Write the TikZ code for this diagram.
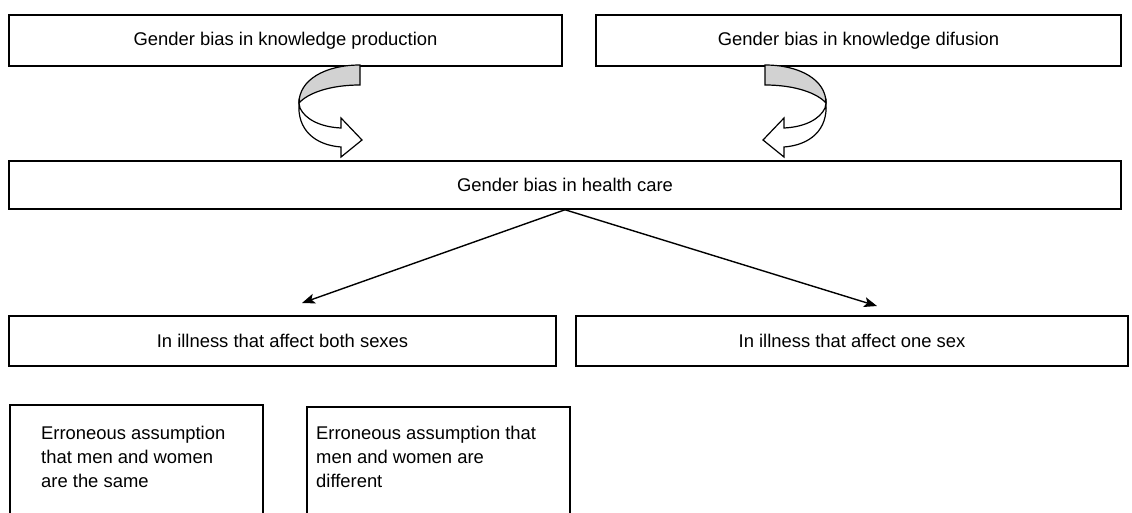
\documentclass[tikz,border=0pt]{standalone}
\usepackage{fontspec}
\setmainfont{Liberation Sans}
\usetikzlibrary{arrows.meta}
\begin{document}
\begin{tikzpicture}[x=1pt,y=-1pt,
  box/.style={draw, line width=1.5pt, inner sep=0pt, font=\fontsize{18.4}{24}\selectfont},
  lbl/.style={inner sep=0pt, align=left, anchor=north west, font=\fontsize{18.4}{24}\selectfont},
  conn/.style={line width=1.4pt, -{Stealth[length=13pt,width=10pt,inset=3pt]}},
  twistback/.style={draw, line width=1.2pt, fill=gray!35, line join=miter},
  twistfront/.style={draw, line width=1.2pt, fill=white, line join=miter}]
\clip (0,0) rectangle (1132,512);
% top row
\node[box, minimum width=553pt, minimum height=51pt] (prod) at (285.5,40.5) {Gender bias in knowledge production};
\node[box, minimum width=525pt, minimum height=51pt] (difu) at (858.5,40.5) {Gender bias in knowledge difusion};
% health care
\node[box, minimum width=1112pt, minimum height=48pt] (health) at (565,185) {Gender bias in health care};
% second row
\node[box, minimum width=547pt, minimum height=50pt] (both) at (282.5,341) {In illness that affect both sexes};
\node[box, minimum width=552pt, minimum height=50pt] (one) at (852,341) {In illness that affect one sex};
% bottom boxes (open at the bottom edge of the picture)
\node[box, anchor=north west, minimum width=253pt, minimum height=140pt] (same) at (9,404) {};
\node[box, anchor=north west, minimum width=263pt, minimum height=140pt] (diff) at (306,406) {};
\node[lbl] (samet) at (41,426) {Erroneous assumption\\that men and women\\are the same};
\node[lbl] (difft) at (316,426) {Erroneous assumption that\\men and women are\\different};
% connectors
\coordinate (t1) at (302,303);
\coordinate (t2) at (877,306);
\draw[conn] (health.south) -- (t1);
\draw[conn] (health.south) -- (t2);
% curved 3D arrows
\begin{scope}
  \path[twistback] (360,65) .. controls (325,65) and (299,80) .. (299,103)
        .. controls (308,93) and (330,85) .. (360,85) -- cycle;
  \path[twistfront] (299,103) .. controls (297,130) and (315,145) .. (341,147)
        -- (341,157) -- (362,140) -- (341,118) -- (341,128)
        .. controls (320,127) and (305,119) .. (300,108) -- cycle;
\end{scope}
\begin{scope}[xshift=1125pt, xscale=-1]
  \path[twistback] (360,65) .. controls (325,65) and (299,80) .. (299,103)
        .. controls (308,93) and (330,85) .. (360,85) -- cycle;
  \path[twistfront] (299,103) .. controls (297,130) and (315,145) .. (341,147)
        -- (341,157) -- (362,140) -- (341,118) -- (341,128)
        .. controls (320,127) and (305,119) .. (300,108) -- cycle;
\end{scope}
\end{tikzpicture}
\end{document}
